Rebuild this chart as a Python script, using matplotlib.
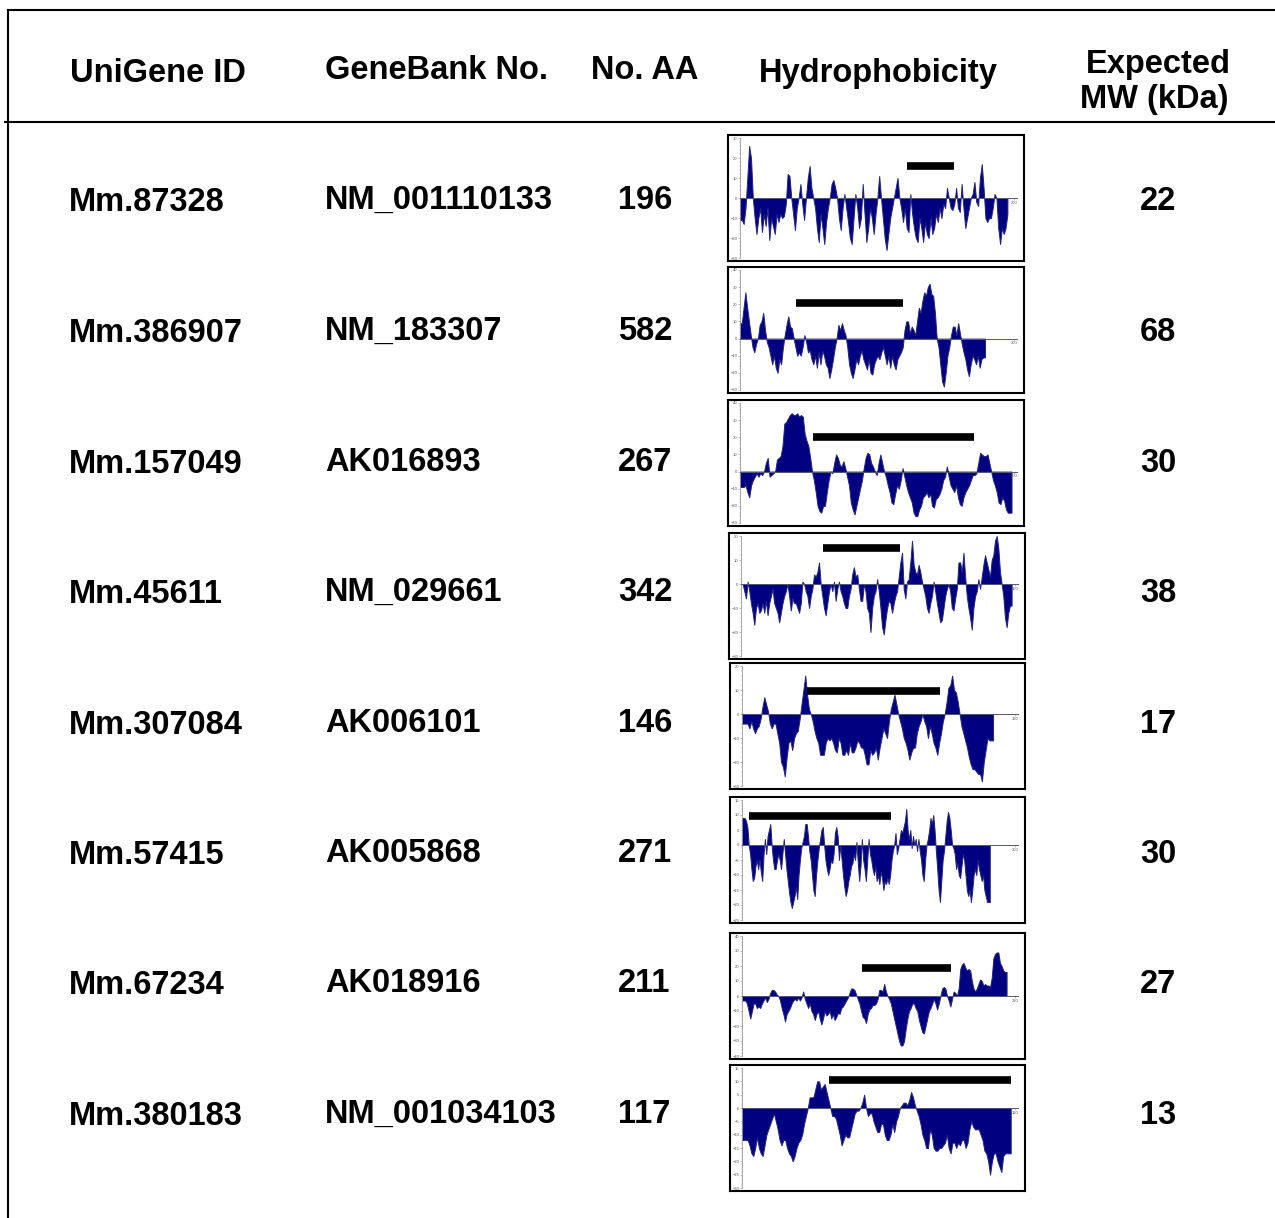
import numpy as np
import matplotlib.pyplot as plt
from matplotlib.lines import Line2D
from matplotlib.ticker import MultipleLocator

W, H = 1275, 1218

headers = ["UniGene ID", "GeneBank No.", "No. AA", "Hydrophobicity"]
unigene_ids = ["Mm.87328", "Mm.386907", "Mm.157049", "Mm.45611",
               "Mm.307084", "Mm.57415", "Mm.67234", "Mm.380183"]
genebank_nos = ["NM_001110133", "NM_183307", "AK016893", "NM_029661",
                "AK006101", "AK005868", "AK018916", "NM_001034103"]
aa_lengths = [196, 582, 267, 342, 146, 271, 211, 117]
mw_kda = [22, 68, 30, 38, 17, 30, 27, 13]

# hydrophobicity profiles
hydro_1 = [-11, -11, -13, -5, 10, 26, 20, 0, -10, -18, -10, -5, -17, -8, -14, -5, -21, -10, -14, -18,
           -8, -12, -8, -10, -9, -3, 12, 11, 0, -8, -16, -5, 0, 7, -3, -11, 0, 10, 16, 5, 0, -5, -15,
           -22, -8, -15, -23, -12, -5, 0, 7, 9, 5, 0, -10, -16, -5, 2, -5, -12, -20, -23, -10, 2, -5,
           -15, -10, 7, -8, -22, -15, -5, -10, -18, -8, 0, 11, 0, -10, -20, -26, -18, -10, -5, 0, 5,
           10, 0, -5, -12, -5, -15, -17, 2, -8, -15, -20, -22, -10, -15, -22, -12, -18, -20, -10, -18,
           -15, -8, -12, -5, -10, -3, -5, 5, 0, -5, -6, -3, 5, -5, -7, 7, -5, -15, -10, -5, 0, 2, 8,
           -2, -4, 10, 17, 5, -10, -12, -10, -10, -5, 2, 0, -15, -23, -15, -18, -15, -8]
hydro_2 = [9, 9, 18, 27, 18, 10, 2, -5, -8, -3, 0, 8, 10, 15, 5, -2, -5, -10, -15, -10, -17, -20, -12,
           -15, -5, 2, 8, 13, 7, 6, 0, -5, -10, -8, -10, -5, 2, -2, -8, -7, -12, -15, -10, -17, -8, -15,
           -7, -10, -15, -17, -23, -18, -12, -5, 0, 8, 5, 9, 5, 2, -5, -15, -20, -23, -18, -12, -15,
           -10, -7, -12, -15, -18, -12, -20, -21, -15, -12, -10, -12, -8, -5, -10, -15, -10, -17, -10,
           -15, -18, -12, -10, -8, -5, 5, 10, 10, 3, 7, 5, 2, 10, 18, 15, 22, 27, 25, 30, 32, 26, 25,
           15, 0, -5, -15, -25, -28, -20, -10, -5, 2, 7, 7, 2, 9, 3, -3, -8, -12, -18, -22, -15, -10,
           -12, -15, -10, -17, -12, -11, -11]
hydro_3 = [-9, -9, -9, -8, -12, -15, -8, -5, -3, -1, -3, -1, -2, 0, 5, 8, -3, -2, -1, 0, 7, 8, 9, 15,
           28, 29, 31, 33, 34, 33, 33, 34, 32, 33, 32, 22, 18, 15, 8, 0, -5, -12, -20, -23, -24, -20,
           -20, -12, -5, 0, -1, 5, 10, 8, 4, 3, 6, 2, -3, -8, -18, -22, -25, -20, -15, -10, -5, 2, 8,
           11, 10, 5, 3, 0, -2, 5, 10, 5, 0, -3, -8, -12, -18, -19, -13, -8, -10, -5, 2, -3, -8, -12,
           -15, -18, -24, -26, -26, -22, -20, -15, -14, -12, -15, -13, -20, -21, -16, -15, -13, -10,
           -5, -3, 3, -3, -8, -10, -12, -8, -15, -19, -20, -15, -12, -10, -8, -5, -2, -2, -1, 5, 11,
           10, 9, 9, 10, 5, 0, -5, -8, -12, -18, -19, -15, -17, -22, -24, -24, -24]
hydro_4 = [0, 0, -3, -6, 1, -3, -8, -12, -17, -10, -8, -12, -11, -8, -12, -7, -13, -8, -5, -2, -8, -10,
           -12, -16, -12, -8, -5, -3, 0, -5, -11, -6, -8, -8, -10, -12, -8, 1, 0, -3, -5, -10, -5, -2,
           4, 3, 5, 9, 0, -5, -10, -13, -8, -3, 0, -3, 1, -7, -2, 1, -3, -5, -8, -10, -10, -5, -2, 4,
           7, 3, 4, -2, -7, -7, 0, -3, -10, -12, -20, -10, -5, -3, 2, -3, -10, -18, -21, -15, -10, -7,
           -8, -12, -8, -5, -3, 3, 9, 13, -2, -6, 1, 2, 9, 18, 8, 5, 4, 8, 5, 1, -2, -5, -10, -12, -8,
           -5, 1, -3, -8, -12, -16, -15, -10, -5, -2, 0, -3, -10, -11, -6, -2, 9, 9, 5, 13, 3, -5, -10,
           -14, -19, -10, -5, -3, 2, -2, 3, 8, 12, 9, 6, 3, 10, 12, 18, 20, 15, 5, 0, -5, -14, -18,
           -12, -9, -9]
hydro_5 = [-4, -4, -4, -4, -6, -3, -6, -8, -6, -5, -2, 3, 7, 4, 1, -4, -6, -4, -4, -8, -12, -20, -22,
           -26, -18, -12, -11, -15, -10, -8, -7, -2, 4, 10, 16, 8, 2, 0, -3, -7, -10, -12, -17, -17,
           -17, -12, -10, -11, -10, -12, -15, -16, -10, -12, -17, -17, -15, -17, -12, -16, -16, -14,
           -11, -12, -14, -14, -17, -21, -21, -15, -17, -16, -14, -19, -14, -10, -6, -8, -10, -3, 2,
           5, 8, 4, 0, -3, -6, -10, -12, -15, -19, -16, -14, -14, -8, -5, -3, 0, -3, -5, -10, -5, -8,
           -12, -14, -17, -12, -8, -3, 0, 5, 11, 12, 16, 10, 9, 5, 0, -5, -8, -11, -14, -18, -21, -23,
           -23, -24, -25, -25, -28, -20, -15, -10, -11, -11, -11]
hydro_6 = [9, 9, 9, 8, 6, 0, -3, -8, -12, -11, -7, -5, -8, -5, -9, -12, -3, 2, -3, 3, 5, 7, 0, -5, -8,
           -8, -5, -3, -5, -8, -3, 2, -3, -8, -12, -16, -19, -21, -19, -17, -14, -18, -10, -5, -1, 1,
           3, 7, 7, 3, -2, -5, -10, -15, -17, -10, -5, -1, 2, 5, 6, 0, -5, -8, -10, -8, -5, -6, -3, 4,
           6, 3, -5, 0, -5, -10, -14, -17, -15, -12, -10, -7, -6, -3, -5, 1, -6, -12, -7, 2, -5, -8,
           -12, -5, 2, -3, -5, -8, -10, -7, -12, -10, -13, -9, -11, -15, -12, -13, -11, -13, -10, -5,
           -2, 0, 4, -3, -1, 2, 5, 4, 6, 8, 12, 5, 2, 5, -1, 3, 0, 2, -2, 2, -2, -5, -10, -12, -5, 0,
           2, 5, 9, 7, 10, 5, -2, -8, -15, -19, -12, -5, -2, 3, 8, 11, 9, 5, 0, -1, -3, -8, -6, -10,
           -11, -7, -3, -5, -10, -15, -17, -15, -19, -15, -10, -8, -10, -5, -8, -10, -12, -10, -15,
           -17, -19, -19, -19]
hydro_7 = [-3, -3, -3, -5, -10, -15, -10, -5, -5, -8, -7, -8, -5, -3, -1, -4, -2, 2, 4, 4, 3, 1, 0, -3,
           -8, -12, -17, -12, -10, -8, -5, -3, -2, -3, -1, -3, -1, 3, -2, -5, -8, -5, -10, -12, -16,
           -12, -10, -15, -19, -15, -10, -13, -12, -10, -15, -12, -16, -14, -11, -12, -8, -7, -5, -3,
           -1, 2, 5, 5, 4, 1, -2, -5, -10, -14, -15, -18, -12, -9, -8, -6, -6, -5, -2, 4, 4, 3, 8, 3,
           0, -2, -5, -10, -15, -20, -25, -30, -33, -33, -30, -22, -15, -10, -8, -5, -5, -8, -10, -16,
           -20, -24, -25, -20, -15, -10, -8, -5, -2, -5, -9, -5, 0, 5, 6, 5, 0, -3, -7, -2, 3, 2, 0, 5,
           18, 21, 22, 19, 17, 18, 17, 10, 5, 3, 5, 8, 11, 10, 7, 8, 7, 7, 6, 12, 25, 28, 29, 29, 22,
           20, 17, 16, 16]
hydro_8 = [-12, -12, -12, -12, -14, -17, -18, -15, -11, -15, -17, -18, -14, -10, -8, -6, -4, -2, -5,
           -8, -12, -14, -12, -12, -15, -17, -18, -20, -18, -15, -13, -12, -10, -6, -3, 0, 4, 4, 4, 7,
           10, 10, 7, 8, 9, 6, 3, 0, -3, -3, -4, -7, -10, -14, -12, -10, -11, -11, -8, -5, -2, -1, -1,
           0, 2, 5, 0, -3, -2, -2, -5, -7, -9, -9, -6, -6, -10, -12, -12, -10, -6, -9, -5, -3, 0, 1, 2,
           2, 1, 3, 6, 4, 1, -1, -3, -6, -10, -12, -15, -15, -8, -10, -15, -16, -16, -15, -15, -14,
           -13, -10, -15, -17, -13, -13, -15, -13, -14, -12, -12, -15, -13, -8, -5, -7, -8, -8, -8,
           -10, -12, -16, -17, -20, -25, -20, -17, -17, -20, -22, -24, -18, -17, -17, -17, -17]
profiles = [hydro_1, hydro_2, hydro_3, hydro_4, hydro_5, hydro_6, hydro_7, hydro_8]

profile_end = [195, 268, 198, 148, 147, 272, 213, 118]
x_max = [200, 300, 200, 150, 160, 300, 220, 120]
y_lo = [-30, -30, -30, -30, -30, -25, -40, -30]
y_hi = [30, 40, 40, 20, 20, 15, 40, 15]
y_step = [10, 10, 10, 10, 10, 5, 10, 5]

# black bars over each profile (residue range and height)
bar_start = [122, 61, 53, 45, 38, 8, 97, 38]
bar_end = [156, 178, 171, 87, 116, 164, 168, 118]
bar_level = [16, 20.6, 20, 14.8, 9.7, 9.8, 18.8, 10.6]

plt.rcParams['font.family'] = ['Liberation Sans', 'DejaVu Sans']

fig = plt.figure(figsize=(W / 100, H / 100), dpi=100)


def px_rect(l, t, r, b):
    return [l / W, 1 - b / H, (r - l) / W, (b - t) / H]


def fline(x0, y0, x1, y1, lw=1.5):
    fig.add_artist(Line2D([x0 / W, x1 / W], [1 - y0 / H, 1 - y1 / H],
                          transform=fig.transFigure, color='black', lw=lw))


def ftext(x, y, s, ha='left'):
    fig.text(x / W, 1 - y / H, s, ha=ha, va='baseline', fontsize=23.5, fontweight='bold')


# frame lines
fline(8, 10, W, 10)
fline(8, 10, 8, H)
fline(5, 122, W, 122)

# header
ftext(70, 82, headers[0])
ftext(325, 79, headers[1])
ftext(591, 79, headers[2])
ftext(759, 82, headers[3])
ftext(1158, 73, "Expected", ha='center')
ftext(1154, 108, "MW (kDa)", ha='center')

row_base = [209, 340, 471, 601, 732, 862, 992, 1123]
boxes = [(728, 135, 1024, 261), (728, 267, 1024, 393), (728, 400, 1024, 526),
         (729, 533, 1025, 659), (730, 663, 1025, 789), (730, 797, 1025, 923),
         (730, 933, 1025, 1059), (730, 1065, 1025, 1191)]

for i in range(8):
    yb = row_base[i]
    ftext(69, yb + 2, unigene_ids[i])
    ftext(325, yb, genebank_nos[i])
    ftext(618, yb, str(aa_lengths[i]))
    ftext(1158, yb + 1, str(mw_kda[i]), ha='center')

    l, t, r, b = boxes[i]
    box = fig.add_axes(px_rect(l, t, r, b))
    box.set_xticks([])
    box.set_yticks([])
    for sp in box.spines.values():
        sp.set_linewidth(1.5)

    ax = fig.add_axes(px_rect(l + 12, t + 3, r - 7, b - 3))
    ax.patch.set_alpha(0)
    vals = np.array(profiles[i], dtype=float)
    x = np.linspace(0, profile_end[i], len(vals))
    ax.fill_between(x, vals, 0, facecolor='#000080', edgecolor='#23237f', lw=0.7)
    ax.plot([bar_start[i], bar_end[i]], [bar_level[i], bar_level[i]],
            color='black', lw=5.5, solid_capstyle='butt')
    ax.set_xlim(0, x_max[i] * 1.01)
    ax.set_ylim(y_lo[i], y_hi[i])

    for side in ['top', 'right']:
        ax.spines[side].set_visible(False)
    ax.spines['left'].set_color('#999999')
    ax.spines['left'].set_linewidth(0.6)
    ax.spines['bottom'].set_position(('data', 0))
    ax.spines['bottom'].set_color('#555577')
    ax.spines['bottom'].set_linewidth(0.7)

    ax.set_yticks(np.arange(y_lo[i], y_hi[i] + 1, y_step[i]))
    ax.yaxis.set_minor_locator(MultipleLocator(y_step[i] / 5))
    ax.set_xticks([x_max[i]])
    ax.xaxis.set_minor_locator(MultipleLocator(x_max[i] / 40))
    ax.tick_params(axis='both', which='major', length=1.5, width=0.4, color='#888888',
                   labelsize=3, labelcolor='#555555', pad=0.5)
    ax.tick_params(axis='both', which='minor', length=0.8, width=0.3, color='#999999')

fig.savefig('out.png', dpi=100)
